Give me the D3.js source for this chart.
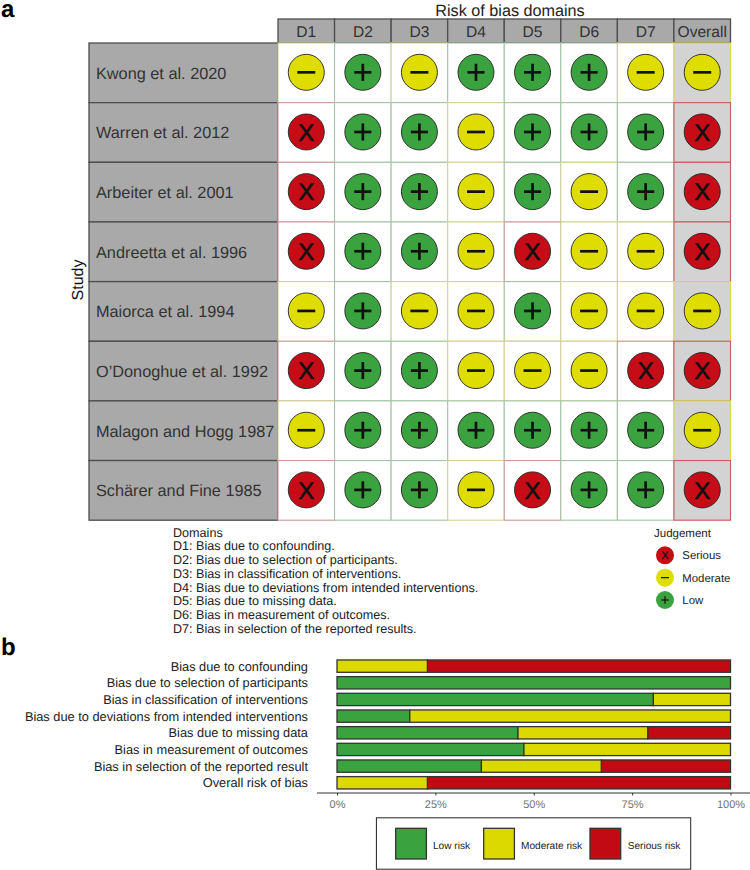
<!DOCTYPE html>
<html><head><meta charset="utf-8">
<script src="https://cdn.jsdelivr.net/npm/d3@7"></script>
<style>html,body{margin:0;padding:0;background:#fff}svg{display:block}text{font-family:"Liberation Sans",Arial,sans-serif;text-rendering:geometricPrecision}</style>
</head><body><svg id="c" width="750" height="870"></svg>
<script>
const studies=["Kwong et al. 2020","Warren et al. 2012","Arbeiter et al. 2001","Andreetta et al. 1996","Maiorca et al. 1994","O’Donoghue et al. 1992","Malagon and Hogg 1987","Schärer and Fine 1985"];
const domains=["D1","D2","D3","D4","D5","D6","D7","Overall"];
const judgements=["MLMLLLMM","SLLMLLLS","SLLMLMLS","SLLMSMMS","MLMMLMMM","SLLMMMSS","MLLLLLLM","SLLMSLLS"];
const domainNotes=["Domains","D1: Bias due to confounding.","D2: Bias due to selection of participants.","D3: Bias in classification of interventions.","D4: Bias due to deviations from intended interventions.","D5: Bias due to missing data.","D6: Bias in measurement of outcomes.","D7: Bias in selection of the reported results."];
const legendKeys=["S","M","L"];
const legendNames=["Serious","Moderate","Low"];
const barLabels=["Bias due to confounding","Bias due to selection of participants","Bias in classification of interventions","Bias due to deviations from intended interventions","Bias due to missing data","Bias in measurement of outcomes","Bias in selection of the reported result","Overall risk of bias"];
const lowRisk=[0,100,80.4,18.5,46,47.5,36.7,0];
const moderateRisk=[23,0,19.6,81.5,33,52.5,30.5,23];
const seriousRisk=[77,0,0,0,21,0,32.8,77];
const riskNames=["Low risk","Moderate risk","Serious risk"];
const ticks=[0,25,50,75,100];

const col={L:"#3aa33f",M:"#dfdc00",S:"#c60c16"};
const svg=d3.select("#c");

svg.append("text").attr("x",1).attr("y",16.5).attr("font-size",24).attr("font-weight","bold").text("a");
svg.append("text").attr("x",1).attr("y",655).attr("font-size",24).attr("font-weight","bold").text("b");

// Panel a
const x=d3.scaleBand().domain(domains).range([278,730.5]);
const y=d3.scaleBand().domain(studies).range([43,520.2]);
const cells=[];
studies.forEach((s,i)=>domains.forEach((d,j)=>cells.push({s,d,v:judgements[i][j]})));

svg.append("text").attr("x",510).attr("y",15.5).attr("text-anchor","middle").attr("font-size",16.2).attr("fill","#222").text("Risk of bias domains");
svg.append("text").attr("transform","translate(83,280) rotate(-90)").attr("text-anchor","middle").attr("font-size",16).attr("fill","#111").text("Study");

svg.append("g").selectAll("rect").data(domains).join("rect")
 .attr("x",d=>x(d)).attr("y",19).attr("width",x.bandwidth()).attr("height",24)
 .attr("fill","#a9a9a9").attr("stroke","#4d4d4d").attr("stroke-width",1.3);
svg.append("g").selectAll("text").data(domains).join("text")
 .attr("x",d=>x(d)+x.bandwidth()/2).attr("y",36.8).attr("text-anchor","middle")
 .attr("font-size",15.6).attr("fill","#333").text(d=>d);

svg.append("g").selectAll("rect").data(studies).join("rect")
 .attr("x",89).attr("y",d=>y(d)).attr("width",189).attr("height",y.bandwidth())
 .attr("fill","#a9a9a9").attr("stroke","#4d4d4d").attr("stroke-width",1.3);
svg.append("g").selectAll("text").data(studies).join("text")
 .attr("x",96).attr("y",d=>y(d)+y.bandwidth()/2+5.8).attr("font-size",16.3).attr("fill","#333").text(d=>d);

svg.append("g").selectAll("rect").data(cells).join("rect")
 .attr("x",d=>x(d.d)).attr("y",d=>y(d.s)).attr("width",x.bandwidth()).attr("height",y.bandwidth())
 .attr("fill",d=>d.d==="Overall"?"#d3d3d3":"#fff")
 .attr("stroke",d=>d3.interpolateRgb(col[d.v],"#d0d0d0")(d.d==="Overall"?0.4:0.72)).attr("stroke-width",1.1);

const cg=svg.append("g").selectAll("g").data(cells).join("g")
 .attr("transform",d=>`translate(${x(d.d)+x.bandwidth()/2},${y(d.s)+y.bandwidth()/2-0.5})`);
cg.append("circle").attr("r",18).attr("fill",d=>col[d.v]).attr("stroke","#222").attr("stroke-width",0.9);
function glyph(sel,a){
 sel.each(function(d){
  const g=d3.select(this),v=d.v||d;
  const st=(x1,y1,x2,y2)=>g.append("line").attr("x1",x1).attr("y1",y1).attr("x2",x2).attr("y2",y2).attr("stroke","#111").attr("stroke-width",a*.3);
  if(v==="L"){st(-a*.95,0,a*.95,0);st(0,-a*.95,0,a*.95);}
  if(v==="M"){st(-a,0,a,0);}
  if(v==="S"){g.append("text").attr("text-anchor","middle").attr("y",a*.97).attr("font-size",a*2.67)
    .attr("fill","#111").attr("stroke","#111").attr("stroke-width",a*.07).text("X");}
 });
}
glyph(cg,9);

// Domain notes
svg.append("g").selectAll("text").data(domainNotes).join("text")
 .attr("x",173).attr("y",(d,i)=>536.7+i*13.7).attr("font-size",12.6).attr("fill","#222").text(d=>d);

// Judgement legend
svg.append("text").attr("x",654).attr("y",537).attr("font-size",11.5).attr("fill","#222").text("Judgement");
const ly=d3.scalePoint().domain(legendKeys).range([555.3,600]);
const lg=svg.append("g").selectAll("g").data(legendKeys).join("g").attr("transform",d=>`translate(665,${ly(d)})`);
lg.append("circle").attr("r",9).attr("fill",d=>col[d]);
glyph(lg,4);
svg.append("g").selectAll("text").data(legendKeys).join("text")
 .attr("x",682.3).attr("y",d=>ly(d)+4).attr("font-size",11.4).attr("fill","#222").text((d,i)=>legendNames[i]);

// Panel b
const bx=d3.scaleLinear().domain([0,100]).range([337,730.5]);
const by=d3.scaleBand().domain(barLabels).range([657.8,791.1]).paddingInner(0.26).paddingOuter(0.13);
const riskFill=["#3aa33f","#dcd900","#c20a14"];
const series=[lowRisk,moderateRisk,seriousRisk];
barLabels.forEach((lab,i)=>{
 let acc=0;
 series.forEach((s,k)=>{
  const v=s[i];
  if(v>0){
   svg.append("rect").attr("x",bx(acc)).attr("y",by(lab)).attr("width",bx(acc+v)-bx(acc)).attr("height",by.bandwidth())
    .attr("fill",riskFill[k]).attr("stroke","#333").attr("stroke-width",1.3);
  }
  acc+=v;
 });
});
svg.append("g").selectAll("text").data(barLabels).join("text")
 .attr("x",308).attr("y",d=>by(d)+by.bandwidth()/2+4.6).attr("text-anchor","end").attr("font-size",12.8).attr("fill","#222").text(d=>d);

const ax=svg.append("g").attr("transform","translate(0,793)")
 .call(d3.axisBottom(bx).tickValues(ticks).tickFormat(d=>d+"%").tickSize(2.5).tickPadding(4.5));
ax.select(".domain").remove();
ax.append("line").attr("x1",317).attr("x2",750).attr("stroke","#333").attr("stroke-width",1);
ax.selectAll(".tick line").attr("stroke","#333");
ax.selectAll(".tick text").attr("font-size",11).attr("fill","#707070").attr("font-family","Liberation Sans");

// Risk legend
svg.append("rect").attr("x",376.4).attr("y",817.8).attr("width",314.3).attr("height",51.4).attr("fill","#fff").attr("stroke","#222").attr("stroke-width",1);
const keyX=[395.7,483.7,590];
const textX=[433,521,627.7];
riskNames.forEach((n,i)=>{
 svg.append("rect").attr("x",keyX[i]).attr("y",828.3).attr("width",30.7).attr("height",30.7).attr("fill",riskFill[i]).attr("stroke","#333").attr("stroke-width",1.3);
 svg.append("text").attr("x",textX[i]).attr("y",848.6).attr("font-size",10.1).attr("fill","#222").text(n);
});
</script></body></html>
